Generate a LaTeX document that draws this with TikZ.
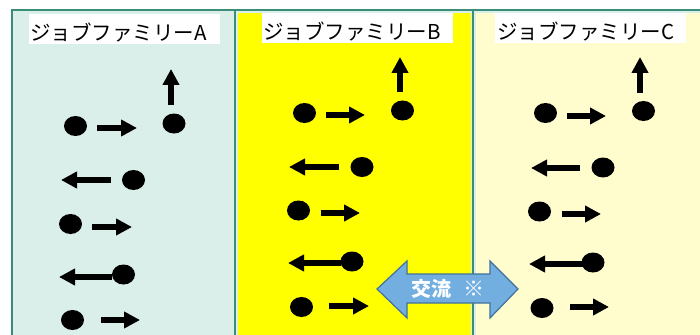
\documentclass[tikz,border=0pt]{standalone}
\usepackage{fontspec}
\newfontfamily\jp{Noto Sans CJK JP}
\usetikzlibrary{arrows.meta,shapes.geometric}
\definecolor{mint}{RGB}{218,239,233}
\definecolor{bordergreen}{RGB}{58,142,120}
\definecolor{lightyel}{RGB}{255,253,206}
\definecolor{pureyel}{RGB}{255,255,0}
\definecolor{flowblue}{RGB}{114,174,224}
\definecolor{flowedge}{RGB}{65,113,156}
\tikzset{
  dot/.style={ellipse, fill=black, minimum width=23pt, minimum height=20pt, inner sep=0pt},
  blk/.style={line width=6pt, -{Triangle[length=16pt,width=16pt]}},
  titlebox/.style={fill=white, draw=none},
  titletext/.style={font=\jp\fontsize{20.5}{20.5}\selectfont, anchor=base west, inner sep=0pt},
}
\begin{document}
\begin{tikzpicture}[x=1pt,y=-1pt]
\useasboundingbox (0,0) rectangle (700,334);
\fill[white] (0,0) rectangle (700,334);
\begin{scope}
\clip (0,0) rectangle (700,334);
% panels
\draw[bordergreen, line width=2pt, fill=mint] (11.8,10) rectangle (710,345);
\fill[pureyel] (237.5,13) rectangle (471,345);
\fill[lightyel] (475.5,13) rectangle (710,345);
\draw[bordergreen, line width=2pt] (235,10) -- (235,345);
\draw[bordergreen, line width=2pt] (473,10) -- (473,345);
\end{scope}
% titles
\fill[titlebox] (29,14) rectangle (220,44);
\fill[titlebox] (262,13) rectangle (453,43);
\fill[titlebox] (495,13) rectangle (686,43);
\node[titletext] (tA) at (30,41) {ジョブファミリーA};
\node[titletext] (tB) at (263,40) {ジョブファミリーB};
\node[titletext] (tC) at (497,40) {ジョブファミリーC};

% Panel A
\node[dot] (a1) at (75.5,126) {};
\node[dot] (a1r) at (174,123.5) {};
\draw[blk] (97,128) -- (137,128);
\draw[blk] (171,105) -- (171,69);
\node[dot] (a2) at (133.5,180) {};
\draw[blk] (111,180) -- (61,180);
\node[dot] (a3) at (70.5,224) {};
\draw[blk] (92,227) -- (132,227);
\node[dot] (a4) at (123.5,274.5) {};
\draw[blk] (112,277) -- (59,277);
\node[dot] (a5) at (72.5,320) {};
\draw[blk] (101,320) -- (140,320);

% Panel B
\node[dot] (b1) at (304.5,113) {};
\node[dot] (b1r) at (402.5,110.5) {};
\draw[blk] (326,115) -- (365,115);
\draw[blk] (400,92) -- (400,57);
\node[dot] (b2) at (362,167) {};
\draw[blk] (339,167) -- (289,167);
\node[dot] (b3) at (298.5,210.5) {};
\draw[blk] (321,213) -- (360,213);
\node[dot] (b4) at (352,261.5) {};
\draw[blk] (341,263) -- (288,263);
\node[dot] (b5) at (301.5,307) {};
\draw[blk] (329,306) -- (369,306);

% Panel C
\node[dot] (c1) at (545.5,113) {};
\node[dot] (c1r) at (643.5,111) {};
\draw[blk] (567,116) -- (606,116);
\draw[blk] (640,93) -- (640,57);
\node[dot] (c2) at (603,167.5) {};
\draw[blk] (580,168) -- (531,168);
\node[dot] (c3) at (539.5,211.5) {};
\draw[blk] (562,214) -- (601,214);
\node[dot] (c4) at (593,262.5) {};
\draw[blk] (583,264) -- (529,264);
\node[dot] (c5) at (542,308) {};
\draw[blk] (570,307) -- (609,307);

% exchange double arrow
\draw[flowedge, line width=1.2pt, fill=flowblue, line join=miter]
  (377,289) -- (407,261) -- (407,274) -- (490,274) -- (490,261) -- (518,289)
  -- (490,318) -- (490,303) -- (407,303) -- (407,318) -- cycle;
\node[font=\jp\bfseries\fontsize{20}{20}\selectfont, text=white, inner sep=0pt] (ex) at (447.5,289) {交流\hspace{12pt}{\fontsize{21}{21}\selectfont ※}};
\end{tikzpicture}
\end{document}
